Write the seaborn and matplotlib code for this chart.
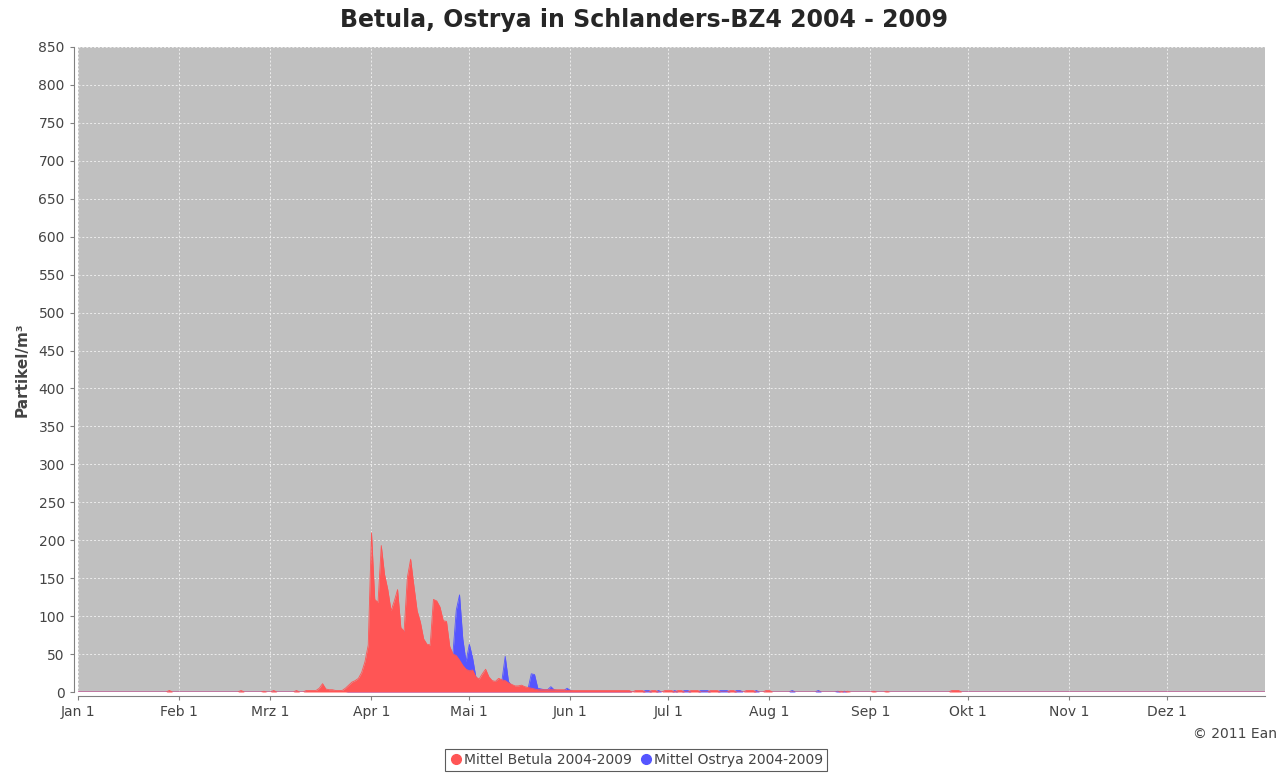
import numpy as np
import pandas as pd
import seaborn as sns
import matplotlib.pyplot as plt
from matplotlib.lines import Line2D

# day of year (0 = Jan 1) -> mean particles/m3
season_start = 70
betula_season = [2, 2, 2, 2, 5, 11, 4, 3, 3, 2,            # 70-79
                  2, 2, 5, 9, 13, 15, 18, 26, 40, 62,       # 80-89
                  210, 122, 118, 193, 155, 135, 107, 120, 135, 85,   # 90-99
                  80, 151, 175, 140, 107, 92, 70, 63, 62, 122,       # 100-109
                  120, 112, 94, 93, 60, 50, 48, 42, 35, 30,          # 110-119
                  28, 29, 20, 17, 24, 30, 20, 15, 14, 18,            # 120-129
                  16, 15, 12, 10, 8, 8, 9, 7, 6, 5,                  # 130-139
                  4, 3, 3, 3, 3, 3, 3, 3, 3, 3,                      # 140-149
                  2, 2, 2, 2, 2, 2, 2, 2, 2, 2,                      # 150-159
                  2, 2, 2, 2, 2, 2, 2, 2, 2, 2]                      # 160-169
ostrya_season = [0, 0, 0, 0, 0, 0, 0, 0, 0, 0,
                 0, 0, 0, 1, 1, 2, 2, 3, 4, 5,
                 6, 8, 10, 12, 15, 18, 20, 24, 30, 35,
                 80, 40, 35, 30, 25, 28, 30, 35, 40, 45,
                 42, 40, 38, 40, 45, 52, 108, 128, 70, 40,
                 63, 45, 20, 12, 10, 9, 8, 10, 12, 15,
                 15, 47, 14, 8, 6, 5, 5, 4, 4, 24,
                 23, 5, 4, 3, 3, 7, 3, 2, 2, 2,
                 5, 2, 1, 1, 1, 1, 1, 1, 1, 1,
                 1, 1, 1, 1, 1, 1, 1, 1, 1, 1]

# sporadic low values outside the main season
betula_extra_days = [28, 50, 57, 60, 67, 171, 172, 173, 176, 177, 180, 181, 182, 184, 185,
                     188, 189, 190, 194, 195, 196, 200, 201, 205, 206, 207, 211, 212,
                     234, 236, 244, 248, 268, 269, 270]
betula_extra_vals = [2, 2, 1, 2, 2, 2, 2, 2, 2, 2, 2, 2, 2, 2, 2,
                     2, 2, 2, 2, 2, 2, 2, 2, 2, 2, 2, 2, 2,
                     1, 1, 1, 1, 2, 2, 2]
ostrya_extra_days = [174, 175, 178, 183, 186, 187, 191, 192, 193, 197, 198, 199, 202, 203,
                     208, 219, 227, 233, 235]
ostrya_extra_vals = [2, 2, 2, 2, 2, 2, 2, 2, 2, 2, 2, 2, 2, 2,
                     2, 2, 2, 1, 1]

month_days = [0, 31, 59, 90, 120, 151, 181, 212, 243, 273, 304, 334]
month_labels = ["Jan 1", "Feb 1", "Mrz 1", "Apr 1", "Mai 1", "Jun 1",
                "Jul 1", "Aug 1", "Sep 1", "Okt 1", "Nov 1", "Dez 1"]

days = np.arange(365)
betula = pd.Series(0.0, index=days)
ostrya = pd.Series(0.0, index=days)
betula.iloc[season_start:season_start + len(betula_season)] = betula_season
ostrya.iloc[season_start:season_start + len(ostrya_season)] = ostrya_season
betula.loc[betula_extra_days] = betula_extra_vals
ostrya.loc[ostrya_extra_days] = ostrya_extra_vals
df = pd.DataFrame({"day": days, "Betula": betula.values, "Ostrya": ostrya.values})

sns.set_style("white")
plt.rcParams["font.family"] = ["DejaVu Sans"]
fig = plt.figure(figsize=(12.87, 7.74), dpi=100)
ax = fig.add_axes([78 / 1287, 1 - 692 / 774, (1265 - 78) / 1287, (692 - 47) / 774])
ax.set_facecolor("#c0c0c0")

red = "#ff5555"
blue = "#5555ff"
ax.fill_between(df["day"], df["Ostrya"], 0, color=blue, lw=0, zorder=2)
ax.fill_between(df["day"], df["Betula"], 0, color=red, lw=0, zorder=3)
sns.lineplot(data=df, x="day", y="Ostrya", ax=ax, color=blue, lw=0.6, zorder=2)
sns.lineplot(data=df, x="day", y="Betula", ax=ax, color=red, lw=0.6, zorder=3)

ax.set_xlim(0, 364)
ax.set_ylim(0, 850)
ax.set_xticks(month_days)
ax.set_xticklabels(month_labels)
ax.set_yticks(np.arange(0, 851, 50))
ax.grid(True, color="#ececec", linestyle=(0, (2, 2)), lw=0.7, zorder=1)
ax.set_axisbelow(True)
ax.tick_params(axis="both", colors="#808080", labelcolor="#444444", labelsize=10,
               length=3, direction="out", left=True, bottom=True)
for s in ["top", "right"]:
    ax.spines[s].set_visible(False)
for s in ["left", "bottom"]:
    ax.spines[s].set_color("#808080")
    ax.spines[s].set_position(("outward", 3))

ax.set_xlabel("")
ax.set_ylabel("Partikel/m³", fontsize=11, fontweight="bold", color="#444444", labelpad=6)

fig.text(0.5, 0.974, "Betula, Ostrya in Schlanders-BZ4 2004 - 2009", ha="center", va="center",
         fontsize=17, fontweight="bold")
fig.text(1277 / 1287, 1 - 734 / 774, "© 2011 Ean", ha="right", va="center",
         fontsize=10, color="#444444")

handles = [Line2D([], [], marker="o", color=red, linestyle="", markersize=7),
           Line2D([], [], marker="o", color=blue, linestyle="", markersize=7)]
leg = fig.legend(handles, ["Mittel Betula 2004-2009", "Mittel Ostrya 2004-2009"],
                 loc="center", bbox_to_anchor=(636 / 1287, 1 - 760 / 774), ncol=2,
                 frameon=True, fancybox=False, fontsize=10, handletextpad=0.1,
                 columnspacing=0.5, borderpad=0.3, handlelength=1.0)
leg.get_frame().set_edgecolor("#333333")
leg.get_frame().set_linewidth(0.8)
for t in leg.get_texts():
    t.set_color("#444444")

fig.savefig("out.png", dpi=100)
